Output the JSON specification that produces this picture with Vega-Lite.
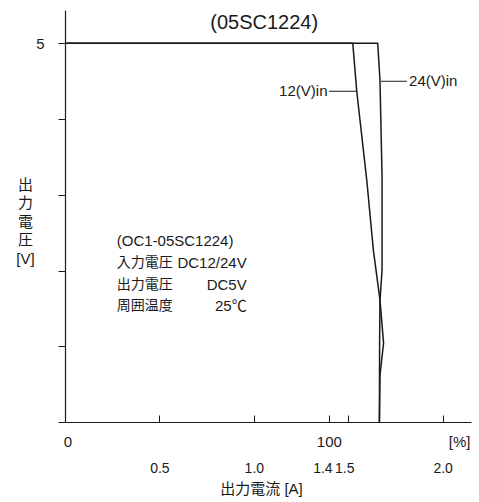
{
  "$schema": "https://vega.github.io/schema/vega-lite/v6.json",
  "width": 406,
  "height": 412,
  "autosize": "none",
  "padding": {"left": 65, "top": 10, "right": 8, "bottom": 80},
  "background": "white",
  "config": {
    "view": {"stroke": null},
    "font": "Liberation Sans, Noto Sans CJK JP",
    "text": {"font": "Liberation Sans, Noto Sans CJK JP", "fontSize": 15, "color": "#1a1a1a"}
  },
  "datasets": {
    "curves": [
      {"vin": "12V", "i": 0, "a": 0, "v": 5},
      {"vin": "12V", "i": 1, "a": 1.524, "v": 5},
      {"vin": "12V", "i": 2, "a": 1.545, "v": 4.367},
      {"vin": "12V", "i": 3, "a": 1.598, "v": 3.193},
      {"vin": "12V", "i": 4, "a": 1.633, "v": 2.269},
      {"vin": "12V", "i": 5, "a": 1.668, "v": 1.609},
      {"vin": "12V", "i": 6, "a": 1.687, "v": 1.042},
      {"vin": "12V", "i": 7, "a": 1.668, "v": 0.62},
      {"vin": "12V", "i": 8, "a": 1.665, "v": 0},
      {"vin": "24V", "i": 0, "a": 0, "v": 5},
      {"vin": "24V", "i": 1, "a": 1.656, "v": 5},
      {"vin": "24V", "i": 2, "a": 1.668, "v": 4.512},
      {"vin": "24V", "i": 3, "a": 1.679, "v": 3.232},
      {"vin": "24V", "i": 4, "a": 1.679, "v": 2.005},
      {"vin": "24V", "i": 5, "a": 1.668, "v": 1.609},
      {"vin": "24V", "i": 6, "a": 1.666, "v": 1.042},
      {"vin": "24V", "i": 7, "a": 1.665, "v": 0}
    ],
    "leaders": [
      {"a": 1.398, "a2": 1.547, "v": 4.367},
      {"a": 1.674, "a2": 1.811, "v": 4.499}
    ],
    "labelLeft": [
      {"a": 1.39, "v": 4.367, "t": "12(V)in"}
    ],
    "labelRight": [
      {"a": 1.822, "v": 4.499, "t": "24(V)in"}
    ],
    "pct": [
      {"a": 0.015, "v": -0.264, "t": "0"},
      {"a": 1.4, "v": -0.264, "t": "100"},
      {"a": 2.09, "v": -0.264, "t": "[%]"}
    ],
    "notesLeft": [
      {"a": 0.274, "v": 2.388, "t": "(OC1-05SC1224)", "cjk": false},
      {"a": 0.274, "v": 2.098, "t": "入力電圧", "cjk": true},
      {"a": 0.274, "v": 1.814, "t": "出力電圧", "cjk": true},
      {"a": 0.274, "v": 1.53, "t": "周囲温度", "cjk": true}
    ],
    "notesRight": [
      {"a": 0.962, "v": 2.098, "t": "DC12/24V"},
      {"a": 0.962, "v": 1.814, "t": "DC5V"},
      {"a": 0.962, "v": 1.53, "t": "25℃"}
    ],
    "heading": [
      {"a": 1.055, "v": 5.27, "t": "(05SC1224)"}
    ]
  },
  "encoding": {
    "x": {"field": "a", "type": "quantitative", "scale": {"domain": [0, 2.15], "nice": false, "zero": false}},
    "y": {"field": "v", "type": "quantitative", "scale": {"domain": [0, 5.44], "nice": false, "zero": false}}
  },
  "layer": [
    {
      "data": {"name": "curves"},
      "mark": {"type": "line", "color": "#1a1a1a", "strokeWidth": 1.5},
      "encoding": {
        "x": {
          "field": "a", "type": "quantitative",
          "axis": {
            "values": [0.5, 1, 1.4, 1.5, 2],
            "format": ".1f",
            "grid": false,
            "labelOverlap": false,
            "domainColor": "#1a1a1a",
            "domainWidth": 1.2,
            "tickColor": "#1a1a1a",
            "tickSize": -7,
            "tickWidth": 1,
            "labelFontSize": 14,
            "labelColor": "#1a1a1a",
            "labelFont": "Liberation Sans",
            "labelPadding": 46,
            "labelOffset": {"expr": "datum.value == 1.4 ? -7 : datum.value == 1.5 ? -4 : 0"},
            "title": "出力電流 [A]",
            "titleFont": "Liberation Sans, Noto Sans CJK JP",
            "titleFontSize": 15,
            "titleFontWeight": "normal",
            "titleColor": "#1a1a1a",
            "titleX": 196,
            "titleY": 66,
            "titleAlign": "center",
            "titleBaseline": "middle"
          }
        },
        "y": {
          "field": "v", "type": "quantitative",
          "axis": {
            "values": [0, 1, 2, 3, 4, 5],
            "labelExpr": "datum.value == 5 ? '5' : ''",
            "grid": false,
            "labelOverlap": false,
            "domainColor": "#1a1a1a",
            "domainWidth": 1.2,
            "tickColor": "#1a1a1a",
            "tickSize": 7,
            "tickWidth": 1,
            "labelFontSize": 15,
            "labelColor": "#1a1a1a",
            "labelFont": "Liberation Sans",
            "labelPadding": 14,
            "title": ["出", "力", "電", "圧", "[V]"],
            "titleFont": "Liberation Sans, Noto Sans CJK JP",
            "titleFontSize": 15,
            "titleFontWeight": "normal",
            "titleColor": "#1a1a1a",
            "titleAngle": 0,
            "titleX": -40,
            "titleY": 167,
            "titleAlign": "center",
            "titleBaseline": "top",
            "titleLineHeight": 18.5
          }
        },
        "detail": {"field": "vin"},
        "order": {"field": "i", "type": "quantitative"}
      }
    },
    {
      "data": {"name": "leaders"},
      "mark": {"type": "rule", "color": "#1a1a1a", "strokeWidth": 1},
      "encoding": {
        "x2": {"field": "a2"}
      }
    },
    {
      "data": {"name": "labelLeft"},
      "mark": {"type": "text", "baseline": "middle", "align": "right", "fontSize": 15},
      "encoding": {"text": {"field": "t"}}
    },
    {
      "data": {"name": "labelRight"},
      "mark": {"type": "text", "baseline": "middle", "align": "left", "fontSize": 15},
      "encoding": {"text": {"field": "t"}}
    },
    {
      "data": {"name": "pct"},
      "mark": {"type": "text", "baseline": "middle", "align": "center", "fontSize": 15},
      "encoding": {"text": {"field": "t"}}
    },
    {
      "data": {"name": "notesLeft"},
      "mark": {"type": "text", "baseline": "middle", "align": "left"},
      "encoding": {
        "text": {"field": "t"},
        "size": {"field": "cjk", "type": "nominal", "scale": {"domain": [false, true], "range": [15, 14]}, "legend": null}
      }
    },
    {
      "data": {"name": "notesRight"},
      "mark": {"type": "text", "baseline": "middle", "align": "right", "fontSize": 15},
      "encoding": {"text": {"field": "t"}}
    },
    {
      "data": {"name": "heading"},
      "mark": {"type": "text", "baseline": "middle", "align": "center", "fontSize": 20},
      "encoding": {"text": {"field": "t"}}
    }
  ]
}
